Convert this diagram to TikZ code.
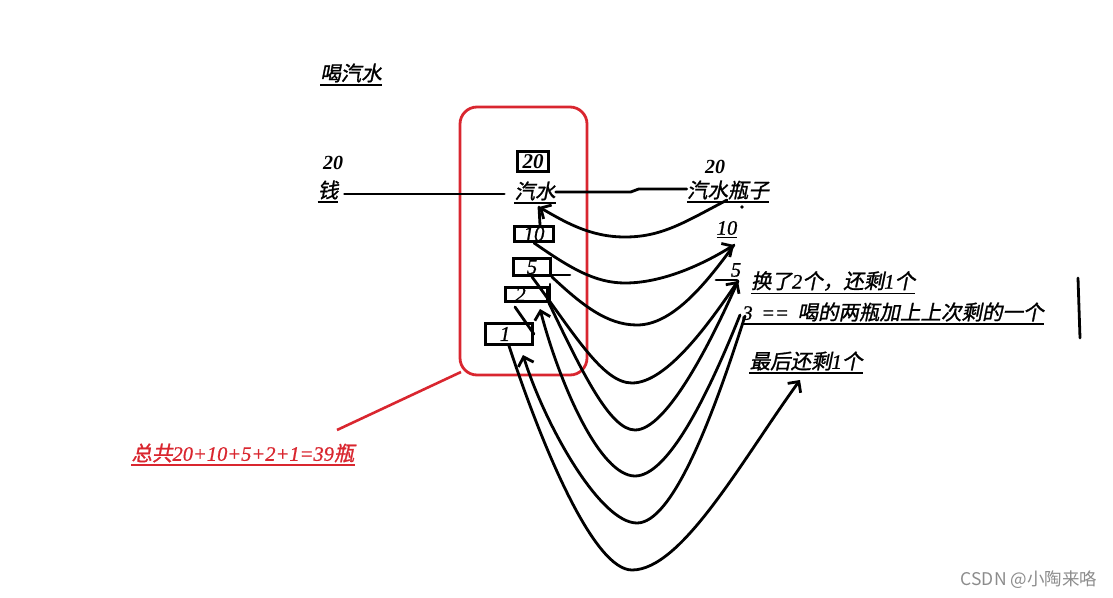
\documentclass[tikz,border=0pt]{standalone}
\usepackage{fontspec}
\setmainfont{Liberation Serif}[ItalicFeatures={FakeBold=0.8}]
\newfontfamily\cjk{Noto Sans CJK SC}[FakeSlant=0.2,FakeBold=1.2]
\newfontfamily\cjkup{Noto Sans CJK SC}
\usetikzlibrary{arrows.meta}
\definecolor{hred}{HTML}{D9262F}
\begin{document}
\begin{tikzpicture}[x=1pt,y=-1pt,
  txt/.style={font=\fontsize{20.5}{22}\selectfont\itshape, inner xsep=0pt, inner ysep=2.5pt},
  bnum/.style={font=\fontsize{20}{22}\selectfont\bfseries\itshape, inner sep=0pt},
  ul/.style={append after command={(\tikzlastnode.south west) edge[draw=#1, line width=1.5pt] (\tikzlastnode.south east)}},
  ul/.default=black,
  box/.style={draw, line width=2.8pt, inner sep=0pt, font=\fontsize{21}{22}\selectfont\itshape},
  stroke/.style={line width=2.8pt, line cap=round},
  arr/.style={stroke, -{Straight Barb[length=8pt,width=16pt]}}]
\useasboundingbox (0,0) rectangle (1113,597);

% frame
\node[draw=hred, line width=2.8pt, rounded corners=17pt, minimum width=127pt, minimum height=268pt, inner sep=0pt] (frame) at (523.5,241) {};

% texts
\node[txt,ul] (title) at (351,73) {\cjk 喝汽水};
\node[bnum] (m20) at (333,163) {20};
\node[txt,ul] (qian) at (328,190) {\cjk 钱};
\node[txt,ul] (qs) at (535,191) {\cjk 汽水};
\node[bnum] (p20) at (715,167) {20};
\node[txt,ul] (qsp) at (728,190) {\cjk 汽水瓶子};
\node[txt,ul] (l10) at (727,228) {10};
\node[txt] (l5) at (736,270) {5};
\node[txt,ul] (huan) at (833,281) {{\cjk 换了}2{\cjk 个，还剩}1{\cjk 个}};
\node[txt,ul] (three) at (893,312) {3 \,== \,{\cjk 喝的两瓶加上上次剩的一个}};
\node[txt,ul] (last) at (806,361) {{\cjk 最后还剩}1{\cjk 个}};
\node[txt,ul=hred,text=hred] (total) at (243,453) {{\cjk 总共}20+10+5+2+1=39{\cjk 瓶}};
\node[font=\cjkup\fontsize{17.5}{19}\selectfont, text=black!45, inner sep=0pt] (wm) at (1029,580) {CSDN @小陶来咯};

% boxes
\node[box, minimum width=31pt, minimum height=20pt] (b20) at (533,161.5) {\bfseries 20};
\node[box, minimum width=39pt, minimum height=15pt] (b10) at (534,234) {10};
\node[box, minimum width=37pt, minimum height=17pt] (b5) at (532,267) {5};
\node[box, minimum width=42pt, minimum height=14pt] (b2) at (526.5,294.5) {\hspace*{-12pt}2};
\node[box, minimum width=47pt, minimum height=21pt] (b1) at (509,334) {\hspace*{-8pt}1};

% straight lines
\draw[stroke] ([xshift=6pt,yshift=-4pt]qian.east) -- ([xshift=-10pt,yshift=-3pt]qs.west);
\draw[stroke] ([yshift=-1pt]qs.east) -- ++(75,0) -- ++(8,-3) -- ([yshift=1pt]qsp.west);
\coordinate (qtip) at (539,207);
\draw[stroke] ([xshift=6pt]b10.north) -- (qtip);
\draw[stroke] ([yshift=-8pt]b5.east) -- ++(18,0);
\draw[stroke] (b2.north east) ++(1,-2) -- ++(0,16);
\draw[stroke] (716,280) -- (737,280);
\fill (742,207) circle (1.8pt);
\coordinate (v1) at (1078,278);
\coordinate (v2) at (1080,338);
\draw[stroke] (v1) -- (v2);
\draw[hred, line width=2.6pt] (337,430) coordinate (rs) -- (461,372);

% named ends
\coordinate (c1s) at (727,200);
\coordinate (t10) at (734,245);
\coordinate (t5) at (738,281);
\coordinate (s3a) at (740,315);
\coordinate (s3b) at (745,316);
\coordinate (tlast) at (800,380);
\coordinate (t2) at (540,309);
\coordinate (t1) at (523,355);
\coordinate (s21) at (515,307);

% curves
\draw[arr] (c1s) .. controls (685,222) and (662,237) .. (625,237) .. controls (590,237) and (565,222) .. (qtip);
\draw[arr] (b10.south) .. controls (570,268) and (595,283) .. (625,283) .. controls (662,283) and (702,265) .. (t10);
\draw[stroke] (b5.south east) .. controls (582,305) and (607,325) .. (637,325) .. controls (672,325) and (705,285) .. (t10);
\draw[arr] (b5.south) .. controls (575,335) and (603,383) .. (632,383) .. controls (667,383) and (710,322) .. (t5);
\draw[stroke] (b2.south east) .. controls (582,372) and (610,430) .. (635,430) .. controls (667,430) and (712,340) .. (t5);
\draw[arr] (s3a) .. controls (706,400) and (667,476) .. (635,476) .. controls (600,476) and (560,385) .. (t2);
\draw[arr] (s3b) .. controls (712,420) and (672,523) .. (637,523) .. controls (600,523) and (545,425) .. (t1);
\draw[arr] (b1.south) .. controls (545,455) and (595,570) .. (632,570) .. controls (682,570) and (742,460) .. (tlast);
\draw[stroke] (s21) -- (b1.east);
\end{tikzpicture}
\end{document}
